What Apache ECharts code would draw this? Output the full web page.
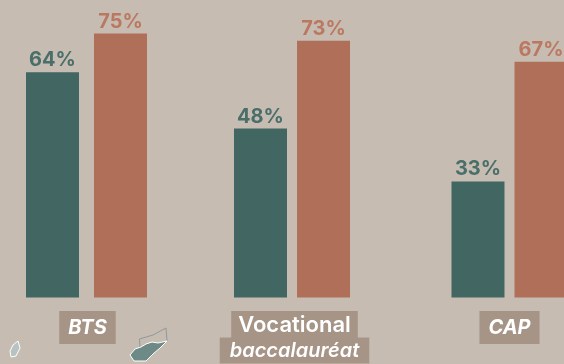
<!DOCTYPE html>
<html><head><meta charset="utf-8">
<style>html,body{margin:0;padding:0;background:#c6bcb2;overflow:hidden}#c{width:564px;height:364px}</style>
<script src="https://cdn.jsdelivr.net/npm/echarts@6/dist/echarts.min.js"></script></head>
<body><div id="c"></div>
<script>
const groups = ['BTS', 'Vocational baccalauréat', 'CAP'];
const tealValues = [64, 48, 33];
const orangeValues = [75, 73, 67];
const TEAL = '#426662', ORANGE = '#b06f58', BOX = '#a69587', BG = '#c6bcb2';
const FONT = 'Inter, Lato, sans-serif';

const lefts = [26, 234, 455], widths = [121, 116, 109], gaps = ['28.3%', '18.9%', '18.9%'];
const shifts = [2, 5, 0], margins = [17, 14, 17];
const rich = {
  i: {color:'#fff', fontFamily:FONT, fontStyle:'italic', fontWeight:700, fontSize:20, backgroundColor:BOX, padding:[7,9,6,9]},
  n: {color:'#fff', fontFamily:FONT, fontWeight:600, fontSize:22, backgroundColor:BOX, padding:[3,7,2,7]},
  b: {color:'#fff', fontFamily:FONT, fontStyle:'italic', fontWeight:600, fontSize:20, backgroundColor:BOX, padding:[3,10,3,10]}
};
function fmt(v){
  if (v === 'Vocational baccalauréat') return '{n|Vocational}\n{b|baccalauréat}';
  return '{i|' + v + '}';
}
const grid = [], xAxis = [], yAxis = [], series = [];
groups.forEach((g, k) => {
  grid.push({left:lefts[k], width:widths[k], top:16, height:281.5});
  xAxis.push({gridIndex:k, type:'category', data:[g], axisLine:{show:false}, axisTick:{show:false},
    axisLabel:{interval:0, margin:margins[k], lineHeight:26, padding:[0,0,0,shifts[k]], formatter:fmt, rich}});
  yAxis.push({gridIndex:k, type:'value', min:0, max:80, show:false, splitLine:{show:false}});
  const lab = c => ({show:true, position:'top', distance:2, formatter:'{c}%', color:c, fontFamily:FONT, fontWeight:700, fontSize:20});
  series.push({type:'bar', clip:false, xAxisIndex:k, yAxisIndex:k, data:[tealValues[k]], barWidth:53, barGap:gaps[k], itemStyle:{color:TEAL}, label:lab('#4a6e69'), silent:true});
  series.push({type:'bar', clip:false, xAxisIndex:k, yAxisIndex:k, data:[orangeValues[k]], barWidth:53, barGap:gaps[k], itemStyle:{color:ORANGE}, label:lab('#bb7860'), silent:true});
});
const chart = echarts.init(document.getElementById('c'), null, {renderer:'canvas'});
chart.setOption({
  animation:false, backgroundColor:BG, grid, xAxis, yAxis, series,
  graphic:[
    {type:'polygon', shape:{points:[[10,351],[13,345],[18,341],[20,348],[16,356],[11,357]]}, style:{fill:'#b7c3c3', stroke:'#fff', lineWidth:1}},
    {type:'polyline', shape:{points:[[140,348],[139.5,339],[153,335],[166,328],[167,341]]}, style:{fill:'none', stroke:'#8d9a9d', lineWidth:1}},
    {type:'polygon', shape:{points:[[130,355],[135,349],[141,347],[146,344],[152,342],[158,343],[167,341],[160,348],[153,354],[146,361],[134,361]]}, style:{fill:'#6d8a86', stroke:'#fff', lineWidth:1}}
  ]
});
</script></body></html>
